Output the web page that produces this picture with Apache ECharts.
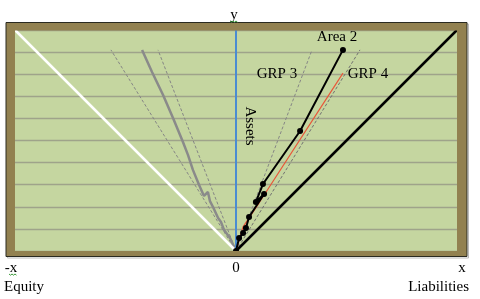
<!DOCTYPE html>
<html><head><meta charset="utf-8">
<script src="https://cdn.jsdelivr.net/npm/echarts@6/dist/echarts.min.js"></script>
<style>html,body{margin:0;padding:0;background:#fff}#c{width:480px;height:299px}</style>
</head><body><div id="c"></div>
<script>
// Equity diagonal (white), liabilities diagonal (black), assets axis (blue)
const equityLine = [[-10, 10], [0, 0]];
const liabilityLine = [[0, 0], [10, 10]];
const assetsAxis = [[0, 0], [0, 10]];
// Dashed guide lines (origin to end point)
const guideLeftOuter = [[0, 0], [-5.66, 9.10]];
const guideLeftInner = [[0, 0], [-3.53, 9.10]];
const guideRightInner = [[0, 0], [3.44, 9.10]];
const guideRightOuter = [[0, 0], [5.61, 9.10]];
// Gray curve on the equity side
const grayCurve = [[-4.25, 9.10], [-3.80, 8.10], [-3.30, 7.06], [-2.85, 6.02], [-2.40, 4.93],
  [-2.17, 4.34], [-1.95, 3.67], [-1.67, 2.99], [-1.45, 2.49], [-1.27, 2.67], [-1.18, 2.26],
  [-1.04, 1.99], [-0.81, 1.49], [-0.68, 1.31], [-0.54, 0.95], [-0.27, 0.59], [0, 0]];
// GRP 4 (red)
const grp4 = [[0, 0], [0.32, 1.09], [1.04, 2.17], [4.84, 8.05]];
// Area 2 (black with markers)
const area2 = [[0, 0], [0.14, 0.59], [0.32, 0.81], [0.45, 1.04], [0.59, 1.54], [1.27, 2.58],
  [0.90, 2.22], [1.22, 3.03], [2.90, 5.43], [4.84, 9.10]];

const serif = '"Liberation Serif","DejaVu Serif",serif';
const brown = '#928150';

function line(data, color, width, type, extra) {
  return Object.assign({
    type: 'line', data: data, symbol: 'none', silent: true,
    lineStyle: { color: color, width: width, type: type || 'solid' }
  }, extra || {});
}
function txt(x, y, text, align) {
  return {
    type: 'text', x: x, y: y, z: 100,
    style: { text: text, font: '15px ' + serif, fill: '#000', textAlign: align || 'center', textVerticalAlign: 'middle' }
  };
}
function squiggle(x0, x1, y) {
  const pts = [];
  for (let x = x0, i = 0; x <= x1; x += 1.5, i++) pts.push([x, y + (i % 2 ? 1.2 : 0)]);
  return { type: 'polyline', z: 100, shape: { points: pts }, style: { stroke: '#3a9a3a', lineWidth: 1, fill: null } };
}

const chart = echarts.init(document.getElementById('c'), null, { renderer: 'canvas' });
chart.setOption({
  animation: false,
  backgroundColor: '#fff',
  grid: { left: 15, right: 23, top: 30, bottom: 48, show: true, backgroundColor: '#c5d6a0', borderWidth: 0 },
  xAxis: { type: 'value', min: -10, max: 10, axisLine: { show: false }, axisTick: { show: false },
    axisLabel: { show: false }, splitLine: { show: false } },
  yAxis: { type: 'value', min: 0, max: 10, interval: 1, axisLine: { show: false }, axisTick: { show: false },
    axisLabel: { show: false }, splitLine: { show: true, lineStyle: { color: '#9fa38a', width: 1.3 } } },
  series: [
    line(guideLeftOuter, '#858585', 1, [3, 2]),
    line(guideLeftInner, '#858585', 1, [3, 2]),
    line(guideRightInner, '#858585', 1, [3, 2]),
    line(guideRightOuter, '#707070', 1, [3, 2]),
    line(grayCurve, '#8a8a8a', 2.5, 'solid'),
    line(equityLine, '#ffffff', 2.5, 'solid'),
    line(liabilityLine, '#000000', 2.5, 'solid'),
    line(assetsAxis, '#4a8cd2', 2, 'solid'),
    line(grp4, '#e8583a', 1.2, 'solid'),
    line(area2, '#000000', 2, 'solid', { symbol: 'circle', symbolSize: 6, itemStyle: { color: '#000' } })
  ],
  graphic: [
    { type: 'rect', z: 90, shape: { x: 7.5, y: 24, width: 461, height: 234 }, style: { fill: null, stroke: '#bbbbbb', lineWidth: 1 } },
    { type: 'rect', z: 90, shape: { x: 6, y: 22.5, width: 461, height: 8 }, style: { fill: brown } },
    { type: 'rect', z: 90, shape: { x: 6, y: 251, width: 461, height: 5.5 }, style: { fill: brown } },
    { type: 'rect', z: 90, shape: { x: 6, y: 22.5, width: 9, height: 234 }, style: { fill: brown } },
    { type: 'rect', z: 90, shape: { x: 457, y: 22.5, width: 10, height: 234 }, style: { fill: brown } },
    { type: 'rect', z: 91, shape: { x: 6, y: 22.5, width: 461, height: 234 }, style: { fill: null, stroke: '#2a2a20', lineWidth: 1 } },
    txt(234, 15, 'y'),
    squiggle(230, 238, 21),
    txt(236, 268, '0'),
    txt(11, 268, '-x'),
    squiggle(9, 17, 274),
    txt(4, 287, 'Equity', 'left'),
    txt(462, 268, 'x'),
    txt(469, 287, 'Liabilities', 'right'),
    txt(337, 37, 'Area 2'),
    txt(277, 74, 'GRP 3'),
    txt(368, 74, 'GRP 4'),
    { type: 'text', z: 100, x: 250, y: 126, rotation: -Math.PI / 2,
      style: { text: 'Assets', font: '15px ' + serif, fill: '#000', textAlign: 'center', textVerticalAlign: 'middle' } }
  ]
});
</script>
</body></html>
